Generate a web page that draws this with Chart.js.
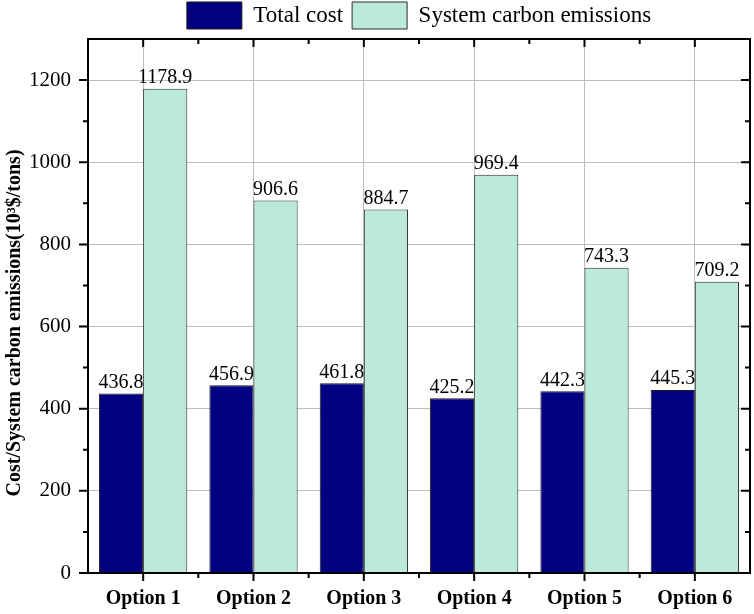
<!DOCTYPE html>
<html>
<head>
<meta charset="utf-8">
<script src="https://cdn.jsdelivr.net/npm/chart.js@4.4.1/dist/chart.umd.min.js"></script>
<style>
  body { margin: 0; background: #fff; }
</style>
</head>
<body>
<canvas id="cost-chart" width="754" height="614"></canvas>
<script>
const options = ["Option 1", "Option 2", "Option 3", "Option 4", "Option 5", "Option 6"];
const totalCost = [436.8, 456.9, 461.8, 425.2, 442.3, 445.3];
const carbonEmissions = [1178.9, 906.6, 884.7, 969.4, 743.3, 709.2];
const yMax = 1300;
const yMajorStep = 200;
const yMinorStep = 100;
const yTitle = "Cost/System carbon emissions(10³$/tons)";

const serif = "'Liberation Serif', 'Times New Roman', serif";
const gridGray = "#bdbdbd";

// value labels above each bar
const barValues = {
  id: "barValues",
  afterDatasetsDraw(chart) {
    const ctx = chart.ctx;
    ctx.save();
    ctx.font = "20px " + serif;
    ctx.fillStyle = "#000";
    ctx.textAlign = "center";
    ctx.textBaseline = "bottom";
    chart.data.datasets.forEach((ds, i) => {
      chart.getDatasetMeta(i).data.forEach((bar, j) => {
        ctx.fillText(ds.data[j].toFixed(1), bar.x, bar.y - 1);
      });
    });
    ctx.restore();
  }
};

// box frame + ticks (outward on left/bottom, inward on top/right) + y title
const frameTicks = {
  id: "frameTicks",
  afterDraw(chart) {
    const { ctx, chartArea: a, scales: { x, y } } = chart;
    ctx.save();
    ctx.strokeStyle = "#000";
    ctx.lineWidth = 2;
    ctx.strokeRect(a.left, a.top, a.right - a.left, a.bottom - a.top);
    ctx.beginPath();
    for (let v = 0; v < yMax; v += yMinorStep) {
      const py = y.getPixelForValue(v);
      const len = v % yMajorStep === 0 ? 9 : 5;
      ctx.moveTo(a.left - len, py); ctx.lineTo(a.left, py);
      ctx.moveTo(a.right, py); ctx.lineTo(a.right - len, py);
    }
    const half = (x.getPixelForValue(1) - x.getPixelForValue(0)) / 2;
    options.forEach((_, i) => {
      const px = x.getPixelForValue(i);
      ctx.moveTo(px, a.bottom); ctx.lineTo(px, a.bottom + 8);
      ctx.moveTo(px, a.top); ctx.lineTo(px, a.top + 8);
      if (i < options.length - 1) {
        ctx.moveTo(px + half, a.bottom); ctx.lineTo(px + half, a.bottom + 5);
        ctx.moveTo(px + half, a.top); ctx.lineTo(px + half, a.top + 5);
      }
    });
    ctx.stroke();

    // axis title, sits a bit below the plot middle like the original
    ctx.translate(15, (a.top + a.bottom) / 2 + 17);
    ctx.rotate(-Math.PI / 2);
    ctx.font = "bold 20px " + serif;
    ctx.fillStyle = "#000";
    ctx.textAlign = "center";
    ctx.textBaseline = "middle";
    ctx.fillText(yTitle, 0, 0);
    ctx.restore();
  }
};

new Chart(document.getElementById("cost-chart"), {
  type: "bar",
  data: {
    labels: options,
    datasets: [
      {
        label: "Total cost",
        data: totalCost,
        backgroundColor: "#000080",
        borderColor: "#1a1a1a",
        borderWidth: 1,
        categoryPercentage: 0.8,
        barPercentage: 1.0
      },
      {
        label: "System carbon emissions",
        data: carbonEmissions,
        backgroundColor: "#bbe9da",
        borderColor: "#2a2a2a",
        borderWidth: 1,
        categoryPercentage: 0.8,
        barPercentage: 1.0
      }
    ]
  },
  options: {
    responsive: false,
    animation: false,
    devicePixelRatio: 1,
    layout: { padding: { top: -7, right: 4, left: 0, bottom: 0 } },
    plugins: {
      tooltip: { enabled: false },
      legend: {
        position: "top",
        fullSize: false,
        labels: {
          boxWidth: 55,
          boxHeight: 27,
          padding: 9,
          color: "#000",
          font: { family: serif, size: 23 }
        }
      }
    },
    scales: {
      x: {
        border: { display: false },
        grid: { offset: false, color: gridGray, drawTicks: false },
        ticks: {
          color: "#000",
          padding: 14,
          font: { family: serif, size: 20, weight: "bold" }
        },
        afterFit(scale) { scale.height = 41; }
      },
      y: {
        min: 0,
        max: yMax,
        border: { display: false },
        grid: {
          drawTicks: false,
          color: (c) => {
            const v = c.tick.value;
            return v % yMajorStep === 0 && v > 0 && v < yMax ? gridGray : "rgba(0,0,0,0)";
          }
        },
        ticks: {
          stepSize: yMinorStep,
          color: "#000",
          padding: 17,
          font: { family: serif, size: 21 },
          callback: (v) => (v % yMajorStep === 0 ? v : "")
        },
        afterFit(scale) { scale.width = 88; }
      }
    }
  },
  plugins: [barValues, frameTicks]
});
</script>
</body>
</html>
